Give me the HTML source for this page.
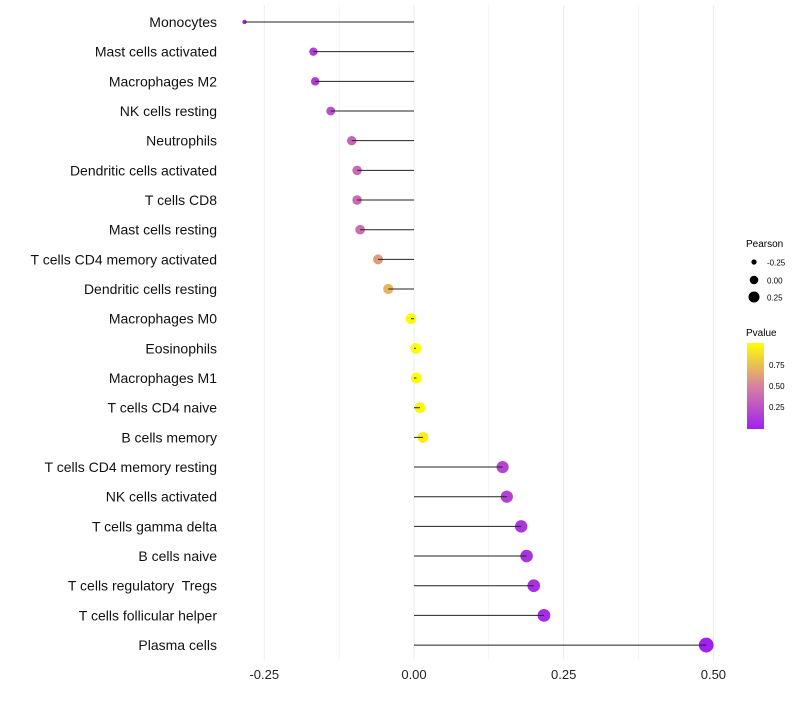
<!DOCTYPE html>
<html><head><meta charset="utf-8"><style>
body{margin:0;background:#fff;font-family:"Liberation Sans",Arial,sans-serif}
svg text{font-family:"Liberation Sans",Arial,sans-serif;white-space:pre}
</style></head><body>
<svg id="chart" width="800" height="700" xmlns="http://www.w3.org/2000/svg">
<g id="grid"></g><g id="marks"></g><g id="labels"></g>
<g id="legend">
<text x="746" y="247" font-size="10">Pearson</text>
<circle cx="754" cy="262" r="2.6" fill="#000"/>
<text x="767" y="265.5" font-size="8">-0.25</text>
<circle cx="754" cy="280" r="4.3" fill="#000"/>
<text x="767" y="283.5" font-size="8">0.00</text>
<circle cx="754" cy="297" r="5.5" fill="#000"/>
<text x="767" y="300.5" font-size="8">0.25</text>
<text x="746" y="336" font-size="10">Pvalue</text>
<defs><linearGradient id="cg" x1="0" y1="1" x2="0" y2="0">
<stop offset="0" stop-color="#a020f0"/><stop offset="0.5" stop-color="#d682a0"/><stop offset="1" stop-color="#ffff00"/></linearGradient></defs>
<rect x="747" y="343" width="17" height="86" fill="url(#cg)"/>
<text x="769" y="368" font-size="8">0.75</text>
<text x="769" y="389" font-size="8">0.50</text>
<text x="769" y="410" font-size="8">0.25</text>
</g>
</svg>
<script>
const categories=["Monocytes","Mast cells activated","Macrophages M2","NK cells resting","Neutrophils","Dendritic cells activated","T cells CD8","Mast cells resting","T cells CD4 memory activated","Dendritic cells resting","Macrophages M0","Eosinophils","Macrophages M1","T cells CD4 naive","B cells memory","T cells CD4 memory resting","NK cells activated","T cells gamma delta","B cells naive","T cells regulatory  Tregs","T cells follicular helper","Plasma cells"];
const pearson=[-0.283,-0.168,-0.165,-0.139,-0.104,-0.095,-0.095,-0.09,-0.06,-0.043,-0.005,0.003,0.004,0.01,0.015,0.148,0.155,0.179,0.188,0.2,0.217,0.488];
const pvalue=[0.02,0.15,0.15,0.25,0.35,0.38,0.38,0.40,0.6,0.7,0.97,0.98,0.98,0.95,0.92,0.2,0.18,0.12,0.1,0.09,0.07,0.01];
const xTicks=[-0.25,0,0.25,0.5];
const xTickLabels=["-0.25","0.00","0.25","0.50"];
const NS="http://www.w3.org/2000/svg";
const x=v=>414+v*598.8;
const y=i=>22+i*29.67;
function mk(t,a,p){const e=document.createElementNS(NS,t);for(const k in a)e.setAttribute(k,a[k]);p.appendChild(e);return e;}
function hex(c){return c.match(/\w\w/g).map(h=>parseInt(h,16));}
const stops=[hex("a020f0"),hex("d682a0"),hex("ffff00")];
function col(p){let t=Math.max(0,Math.min(1,(p-0.01)/0.98));let a,b,u;if(t<0.5){a=stops[0];b=stops[1];u=t*2}else{a=stops[1];b=stops[2];u=(t-0.5)*2}
return "rgb("+a.map((v,i)=>Math.round(v+(b[i]-v)*u)).join(",")+")";}
const mn=Math.min(...pearson),mx=Math.max(...pearson);
const rad=v=>2.2+5.2*Math.sqrt((v-mn)/(mx-mn));
const G=document.getElementById("grid"),M=document.getElementById("marks"),L=document.getElementById("labels");
[-0.25,-0.125,0,0.125,0.25,0.375,0.5].forEach(v=>{
const l=mk("line",{x1:x(v),x2:x(v),y1:5,y2:660,stroke:"#ececec","stroke-width":v*8%2===0?1:0.6},G);


});
xTicks.forEach((v,i)=>{
const t=mk("text",{x:x(v),y:679,"font-size":13,"text-anchor":"middle",fill:"#222"},L);t.textContent=xTickLabels[i];


});
categories.forEach((c,i)=>{
const t=mk("text",{x:217,y:y(i)+5,"font-size":14,"text-anchor":"end",fill:"#111"},L);t.textContent=c;


const ci=mk("circle",{cx:x(pearson[i]),cy:y(i),r:rad(pearson[i]),fill:col(pvalue[i])},M);


const ln=mk("line",{x1:x(0),x2:x(pearson[i]),y1:y(i),y2:y(i),stroke:"#222","stroke-width":1},M);


});
</script>
</body></html>
